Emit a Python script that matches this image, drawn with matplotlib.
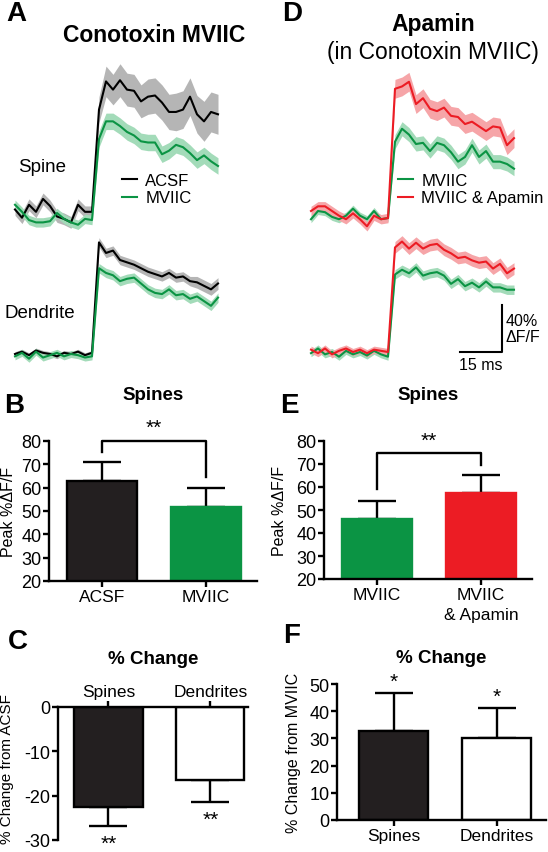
import matplotlib.pyplot as plt
import numpy as np

plt.rcParams['font.family'] = ['Liberation Sans', 'DejaVu Sans']
plt.rcParams['axes.unicode_minus'] = False

W, H = 548, 853

BLACK = '#231f20'
GREEN = '#0b9444'
RED = '#ec1c24'
GREY_BAND = '#b5b5b5'
GREEN_BAND = '#a3dbb9'
RED_BAND = '#f6a5a8'

# ---- traces (% dF/F), sampled every 2.5 ms ----
t = np.arange(30) * 2.5

a_spine_acsf = [5, -2, 9, 3, 14, 8, -1, -3, -6, 9, 3, 3,
                90, 114, 107, 115, 107, 106, 97, 101, 102, 96, 88, 88,
                90, 101, 86, 80, 88, 86]
a_spine_acsf_sem = [5, 5, 5, 5, 5, 5, 5, 5, 5, 5, 5, 5,
                    11, 13, 13, 14, 14, 14, 14, 15, 15, 15, 15, 16,
                    16, 16, 16, 17, 17, 17]
a_spine_mviic = [9, 3, -4, -6, -6, -5, 2, -3, -6, -8, -3, -4,
                 65, 80, 80, 76, 71, 68, 63, 62, 62, 52, 55, 60,
                 58, 53, 47, 51, 46, 42]
a_spine_mviic_sem = [4, 4, 4, 4, 4, 4, 4, 4, 4, 4, 4, 4,
                     7, 7, 7, 7, 7, 7, 7, 7, 7, 7, 7, 7,
                     7, 7, 7, 7, 7, 7]
a_dend_acsf = [0, 2, -1, 3, 1, 0, -2, 1, 0, 2, -1, 1,
               95, 86, 88, 80, 78, 76, 73, 70, 68, 66, 69, 65,
               66, 62, 61, 58, 55, 60]
a_dend_acsf_sem = [2, 2, 2, 2, 2, 2, 2, 2, 2, 2, 2, 2,
                   4, 4, 4, 4, 4, 4, 4, 4, 4, 4, 4, 4,
                   4, 4, 5, 5, 5, 5]
a_dend_mviic = [-2, 1, -4, 2, -3, -1, 1, -2, 0, -1, -3, -2,
                73, 69, 67, 62, 64, 65, 60, 55, 52, 51, 55, 50,
                51, 47, 49, 45, 41, 48]
a_dend_mviic_sem = [3, 3, 3, 3, 3, 3, 3, 3, 3, 3, 3, 3,
                    4, 4, 4, 4, 4, 4, 4, 4, 4, 4, 4, 4,
                    4, 4, 4, 4, 4, 4]

d_spine_mviic = [-3, 4, 3, -1, -3, 0, 6, 0, -3, 4, -3, -2,
                 63, 74, 69, 61, 62, 55, 62, 60, 54, 46, 50, 60,
                 50, 55, 46, 46, 44, 40]
d_spine_mviic_sem = [3, 3, 3, 3, 3, 3, 3, 3, 3, 3, 3, 3,
                     6, 6, 6, 6, 6, 6, 6, 6, 6, 6, 6, 6,
                     6, 6, 6, 6, 6, 6]
d_spine_apa = [4, 8, 8, 4, 0, -3, 2, -3, -9, 0, -3, -2,
               108, 110, 114, 95, 100, 91, 89, 92, 85, 84, 78, 80,
               76, 72, 76, 75, 60, 66]
d_spine_apa_sem = [4, 4, 4, 4, 4, 4, 4, 4, 4, 4, 4, 4,
                   8, 8, 8, 8, 8, 8, 8, 8, 8, 8, 8, 8,
                   8, 8, 8, 8, 8, 8]
d_dend_mviic = [-1, 3, -2, 0, -4, 1, -2, 0, -3, 1, -2, -4,
                66, 70, 67, 72, 65, 67, 68, 65, 58, 62, 56, 59,
                55, 60, 55, 55, 53, 53]
d_dend_mviic_sem = [3, 3, 3, 3, 3, 3, 3, 3, 3, 3, 3, 3,
                    4, 4, 4, 4, 4, 4, 4, 4, 4, 4, 4, 4,
                    4, 4, 4, 4, 4, 4]
d_dend_apa = [2, -1, 3, -2, 1, 3, 0, 2, -1, 2, 1, 0,
              89, 94, 88, 93, 88, 91, 92, 87, 84, 80, 81, 78,
              76, 77, 71, 75, 67, 71]
d_dend_apa_sem = [3, 3, 3, 3, 3, 3, 3, 3, 3, 3, 3, 3,
                  5, 5, 5, 5, 5, 5, 5, 5, 5, 5, 5, 5,
                  5, 5, 5, 5, 5, 5]

# ---- bar data ----
b_labels = ['ACSF', 'MVIIC']
b_vals = [62.7, 51.7]
b_err = [8.2, 8.2]

e_labels = ['MVIIC', 'MVIIC\n& Apamin']
e_vals = [46.1, 57.4]
e_err = [7.9, 7.8]

c_labels = ['Spines', 'Dendrites']
c_vals = [-22.6, -16.5]
c_err = [4.2, 4.9]

f_labels = ['Spines', 'Dendrites']
f_vals = [32.6, 30.0]
f_err = [14.0, 11.2]


def box(l, t_, r, b):
    # pixel box -> figure fraction
    return [l / W, 1 - b / H, (r - l) / W, (b - t_) / H]


fig = plt.figure(figsize=(W / 100, H / 100), dpi=100)


def draw_traces(ax, pairs):
    ys = []
    for y, sem, lc, bc, o in pairs:
        y = np.asarray(y, float) + o
        s = np.asarray(sem, float)
        ax.fill_between(t, y - s, y + s, color=bc, lw=0, zorder=1)
        ys.append((y, lc))
    lines = []
    for y, lc in ys:
        lines.append(ax.plot(t, y, color=lc, lw=1.5, zorder=3)[0])
    return lines


# Panel A traces
axA = fig.add_axes(box(0, 40, 274, 380))
axA.set_xlim(-15 / 2.8, 259 / 2.8)
axA.set_ylim(-25 / 1.175, 315 / 1.175)
axA.axis('off')
offA = 118
la = draw_traces(axA, [
    (a_spine_acsf, a_spine_acsf_sem, 'black', GREY_BAND, offA),
    (a_spine_mviic, a_spine_mviic_sem, GREEN, GREEN_BAND, offA),
])
draw_traces(axA, [
    (a_dend_acsf, a_dend_acsf_sem, 'black', GREY_BAND, 0),
    (a_dend_mviic, a_dend_mviic_sem, GREEN, GREEN_BAND, 0),
])
axA.legend(la, ['ACSF', 'MVIIC'], loc='upper left',
           bbox_to_anchor=(122 / W, 1 - 174 / H), bbox_transform=fig.transFigure,
           frameon=False, fontsize=12, handlelength=0.9, handletextpad=0.5,
           labelspacing=0.15, borderpad=0, borderaxespad=0)

# Panel D traces
axD = fig.add_axes(box(274, 40, 548, 380))
axD.set_xlim(-37 / 2.8, 237 / 2.8)
axD.set_ylim(-27 / 1.175, 313 / 1.175)
axD.axis('off')
offD = 116
ld = draw_traces(axD, [
    (d_spine_mviic, d_spine_mviic_sem, GREEN, GREEN_BAND, offD),
    (d_spine_apa, d_spine_apa_sem, RED, RED_BAND, offD),
])
draw_traces(axD, [
    (d_dend_mviic, d_dend_mviic_sem, GREEN, GREEN_BAND, 0),
    (d_dend_apa, d_dend_apa_sem, RED, RED_BAND, 0),
])
axD.legend(ld, ['MVIIC', 'MVIIC & Apamin'], loc='upper left',
           bbox_to_anchor=(398 / W, 1 - 174 / H), bbox_transform=fig.transFigure,
           frameon=False, fontsize=12, handlelength=0.9, handletextpad=0.5,
           labelspacing=0.15, borderpad=0, borderaxespad=0)

# scale bar: 15 ms x 40 %
sb_x, sb_y = 68.2, 0
axD.plot([sb_x - 15, sb_x, sb_x], [sb_y, sb_y, sb_y + 40], color='black', lw=1.5)
axD.text(sb_x + 1.3, sb_y + 20, '40%\nΔF/F', fontsize=11.5, va='center', ha='left',
         linespacing=1.15)
axD.text(sb_x - 7.5, sb_y - 4, '15 ms', fontsize=11.5, va='top', ha='center')

fig.text(18 / W, 1 - 168 / H, 'Spine', fontsize=13.5, va='center', ha='left')
fig.text(4 / W, 1 - 313 / H, 'Dendrite', fontsize=13.5, va='center', ha='left')

# headers
fig.text(6 / W, 1 - 14 / H, 'A', fontsize=20, fontweight='bold', va='center')
fig.text(154 / W, 1 - 36 / H, 'Conotoxin MVIIC', fontsize=16.5, fontweight='bold',
         va='center', ha='center')
fig.text(282 / W, 1 - 14 / H, 'D', fontsize=20, fontweight='bold', va='center')
fig.text(433 / W, 1 - 25 / H, 'Apamin', fontsize=16.5, fontweight='bold',
         va='center', ha='center')
fig.text(433 / W, 1 - 53 / H, '(in Conotoxin MVIIC)', fontsize=16.5,
         va='center', ha='center')


def style(ax):
    for s in ['top', 'right']:
        ax.spines[s].set_visible(False)
    for s in ['left', 'bottom']:
        ax.spines[s].set_linewidth(1.7)
    ax.tick_params(width=1.7, length=4, labelsize=13, pad=1.5, colors='black')


def bars(ax, vals, err, colors, edges, down=False):
    x = np.arange(len(vals))
    z = np.zeros(len(vals))
    yerr = [err, z] if down else [z, err]
    ax.errorbar(x, vals, yerr=yerr, fmt='none', ecolor='black', elinewidth=1.7,
                capsize=14, capthick=1.7, zorder=1)
    ax.bar(x, vals, width=0.67, color=colors, edgecolor=edges, linewidth=1.7,
           zorder=2)
    return x


# Panel B
axB = fig.add_axes(box(49, 442, 257, 582))
style(axB)
x = bars(axB, b_vals, b_err, [BLACK, GREEN], ['black', GREEN])
axB.set_ylim(20, 80)
axB.set_yticks(range(20, 81, 10))
axB.set_xlim(-0.51, 1.49)
axB.set_xticks(x, b_labels, fontsize=12.5)
axB.set_ylabel('Peak %ΔF/F', fontsize=11.5)
axB.yaxis.set_label_coords(-0.16, 0.5)
axB.plot([0, 0, 1, 1], [75.3, 80, 80, 64.6], color='black', lw=1.7, clip_on=False)
axB.text(0.5, 82.0, '**', fontsize=15, ha='center', va='bottom')
axB.set_title('Spines', fontsize=13.5, fontweight='bold', pad=30)
fig.text(4 / W, 1 - 406 / H, 'B', fontsize=20, fontweight='bold', va='center')

# Panel E
axE = fig.add_axes(box(324, 442, 532, 580))
style(axE)
x = bars(axE, e_vals, e_err, [GREEN, RED], [GREEN, RED])
axE.set_ylim(20, 80)
axE.set_yticks(range(20, 81, 10))
axE.set_xlim(-0.51, 1.49)
axE.set_xticks(x, e_labels, fontsize=12.5, linespacing=1.45)
axE.set_ylabel('Peak %ΔF/F', fontsize=11.5)
axE.yaxis.set_label_coords(-0.18, 0.5)
axE.plot([0, 0, 1, 1], [59.1, 74.8, 74.8, 69.6], color='black', lw=1.7, clip_on=False)
axE.text(0.5, 76.3, '**', fontsize=15, ha='center', va='bottom')
axE.set_title('Spines', fontsize=13.5, fontweight='bold', pad=30)
fig.text(280 / W, 1 - 406 / H, 'E', fontsize=20, fontweight='bold', va='center')

# Panel C
axC = fig.add_axes(box(58, 708, 248, 841))
for s in ['bottom', 'right']:
    axC.spines[s].set_visible(False)
for s in ['left', 'top']:
    axC.spines[s].set_linewidth(1.7)
axC.tick_params(width=1.7, length=4, labelsize=13, pad=1.5)
axC.xaxis.tick_top()
x = bars(axC, c_vals, c_err, [BLACK, 'white'], ['black', 'black'], down=True)
axC.set_ylim(-30, 0)
axC.set_yticks([-30, -20, -10, 0])
axC.set_xlim(-0.495, 1.37)
axC.set_xticks(x, c_labels, fontsize=12.5)
axC.set_ylabel('% Change from ACSF', fontsize=11)
axC.yaxis.set_label_coords(-0.23, 0.54)
for xi, v, e in zip(x, c_vals, c_err):
    axC.text(xi, v - e - 1.8, '**', fontsize=15, ha='center', va='top')
axC.set_title('% Change', fontsize=13.5, fontweight='bold', pad=32)
fig.text(8 / W, 1 - 642 / H, 'C', fontsize=20, fontweight='bold', va='center')

# Panel F
axF = fig.add_axes(box(337, 685, 546, 821))
style(axF)
x = bars(axF, f_vals, f_err, [BLACK, 'white'], ['black', 'black'])
axF.set_ylim(0, 50)
axF.set_yticks(range(0, 51, 10))
axF.set_xlim(-0.553, 1.476)
axF.set_xticks(x, f_labels, fontsize=12.5)
axF.set_ylabel('% Change from MVIIC', fontsize=11.5)
axF.yaxis.set_label_coords(-0.17, 0.5)
for xi, v, e in zip(x, f_vals, f_err):
    axF.text(xi, v + e + 0.8, '*', fontsize=15, ha='center', va='bottom')
axF.set_title('% Change', fontsize=13.5, fontweight='bold', pad=16)
fig.text(283 / W, 1 - 636 / H, 'F', fontsize=20, fontweight='bold', va='center')

fig.savefig('out.png', dpi=100)
